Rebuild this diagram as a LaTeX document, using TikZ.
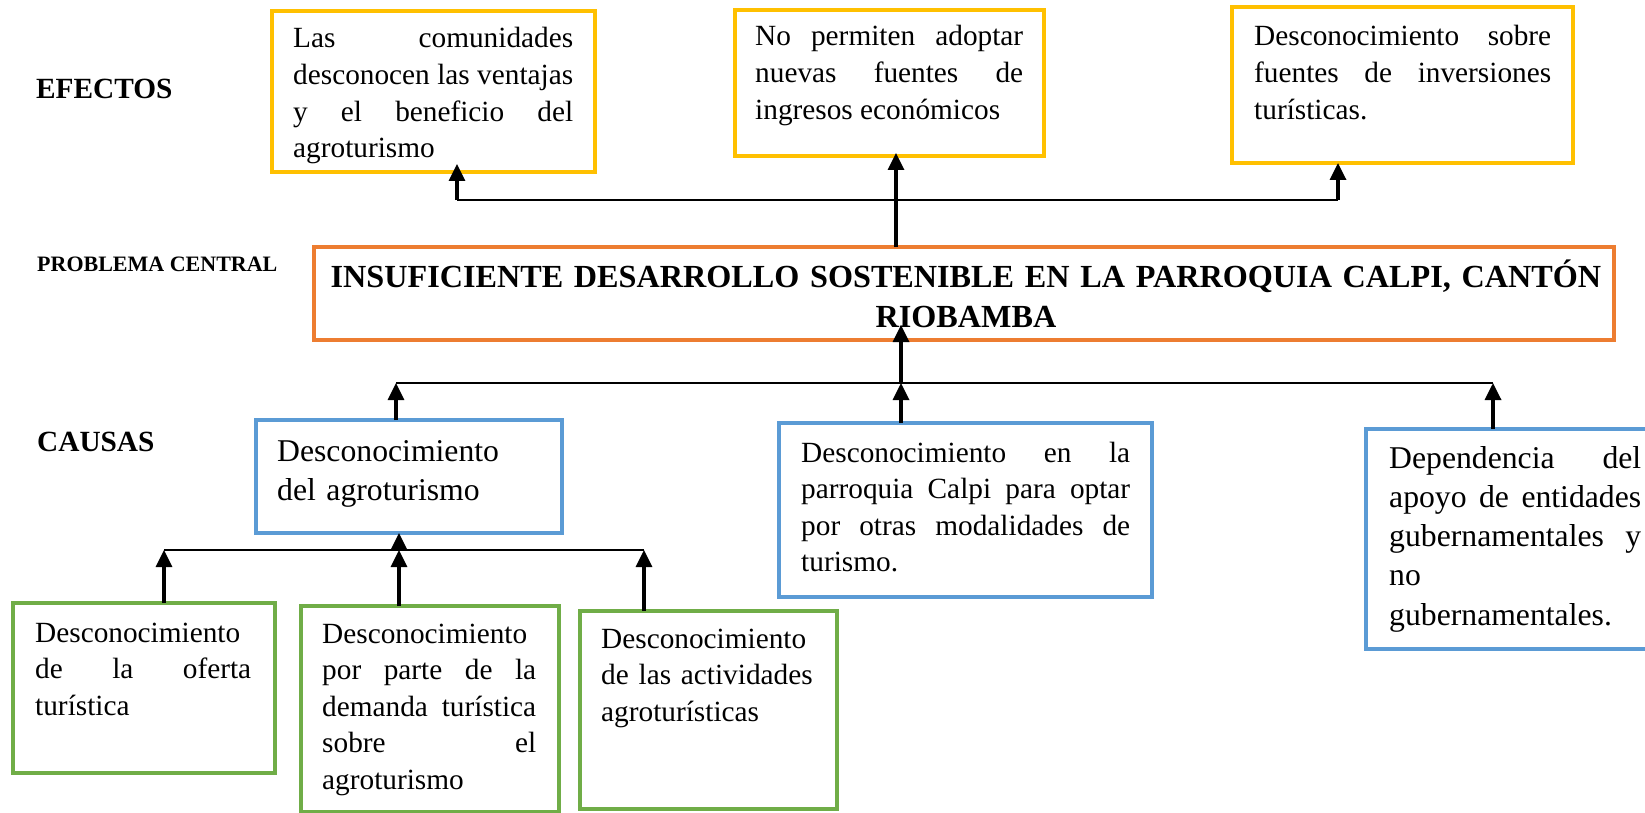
\documentclass[tikz,border=0pt]{standalone}
\usepackage{fontspec}
\setmainfont{Liberation Serif}
\usetikzlibrary{arrows.meta,calc}
\definecolor{cyel}{HTML}{FFC000}
\definecolor{corg}{HTML}{ED7D31}
\definecolor{cblu}{HTML}{5B9BD5}
\definecolor{cgrn}{HTML}{70AD47}
\tolerance=10000 \hyphenpenalty=10000 \exhyphenpenalty=10000
\begin{document}
\begin{tikzpicture}[x=1pt,y=-1pt,
 box/.style={draw=#1, line width=3.5pt, inner sep=0pt, outer sep=0pt, anchor=north west},
 txt/.style={anchor=base west, inner sep=0pt, text width=#1, align=justify},
 fa/.style={font=\fontsize{29.3}{36.6}\selectfont},
 fb/.style={font=\fontsize{31.7}{39.3}\selectfont},
 lab/.style={anchor=base west, inner sep=0pt},
 arr/.style={line width=3.3pt, -{Triangle[width=16pt,length=17pt]}},
 bar/.style={line width=1.5pt}]
\useasboundingbox (0,0) rectangle (1645,813);

% labels
\node[lab, font=\bfseries\fontsize{29.3}{35}\selectfont] (lE) at (36,99) {EFECTOS};
\node[lab, font=\bfseries\fontsize{22}{26}\selectfont] (lP) at (37,271) {PROBLEMA CENTRAL};
\node[lab, font=\bfseries\fontsize{29.3}{35}\selectfont] (lC) at (37,451) {CAUSAS};

% effects
\node[box=cyel, minimum width=323pt, minimum height=161pt] (E1) at (272,11) {};
\node[txt=280pt, fa] (E1t) at (293,48) {Las comunidades\linebreak desconocen las ventajas\linebreak y el beneficio del\linebreak agroturismo};
\node[box=cyel, minimum width=309pt, minimum height=146pt] (E2) at (735,10) {};
\node[txt=268pt, fa] (E2t) at (755,46) {No permiten adoptar\linebreak nuevas fuentes de\linebreak ingresos económicos};
\node[box=cyel, minimum width=341pt, minimum height=156pt] (E3) at (1232,7) {};
\node[txt=297pt, fa] (E3t) at (1254,46) {Desconocimiento sobre\linebreak fuentes de inversiones\linebreak turísticas.};

% central problem
\node[box=corg, minimum width=1300pt, minimum height=93pt] (CP) at (314,247) {};
\node[anchor=base, inner sep=0pt, text width=1290pt, align=center, font=\bfseries\fontsize{32.2}{40}\selectfont] (CPt) at (966,287) {INSUFICIENTE DESARROLLO SOSTENIBLE EN LA PARROQUIA CALPI, CANTÓN\\RIOBAMBA};

% causes
\node[box=cblu, minimum width=306pt, minimum height=113pt] (C1) at (256,420) {};
\node[txt=270pt, fb, align=left] (C1t) at (277,461) {Desconocimiento\\del agroturismo};
\node[box=cblu, minimum width=373pt, minimum height=174pt] (C2) at (779,423) {};
\node[txt=329pt, fa] (C2t) at (801,462) {Desconocimiento en la\linebreak parroquia Calpi para optar\linebreak por otras modalidades de\linebreak turismo.};
\node[box=cblu, minimum width=300pt, minimum height=220pt] (C3) at (1366,429) {};
\node[txt=252pt, fb] (C3t) at (1389,468) {Dependencia del\linebreak apoyo de entidades\linebreak gubernamentales y\linebreak no\hfill\linebreak gubernamentales.};

% sub-causes
\node[box=cgrn, minimum width=262pt, minimum height=170pt] (G1) at (13,603) {};
\node[txt=216pt, fa] (G1t) at (35,642) {Desconocimiento\hfill\linebreak de la oferta\linebreak turística};
\node[box=cgrn, minimum width=258pt, minimum height=206pt] (G2) at (301,606) {};
\node[txt=214pt, fa] (G2t) at (322,643) {Desconocimiento\hfill\linebreak por parte de la\linebreak demanda turística\linebreak sobre el\linebreak agroturismo};
\node[box=cgrn, minimum width=257pt, minimum height=198pt] (G3) at (580,611) {};
\node[txt=215pt, fa, align=left] (G3t) at (601,648) {Desconocimiento\\de las actividades\\agroturísticas};

% upper connectors
\coordinate (uL) at (457,200);
\coordinate (uR) at (1338,200);
\coordinate (uM) at (896,200);
\draw[bar] (uL) -- (uR);
\draw[arr] (uL) -- ($(uL |- E1.south)+(0,-8)$);
\draw[arr] (uR) -- (uR |- E3.south);
\draw[arr] (uM |- CP.north) -- ($(uM |- E2.south)+(0,-3)$);

% lower connectors
\coordinate (lL) at (396,383);
\coordinate (lM) at (901,383);
\coordinate (lR) at (1493,383);
\draw[bar] (lL) -- (lR);
\draw[arr] (lL |- C1.north) -- (lL);
\draw[arr] (lM |- C2.north) -- (lM);
\draw[arr] (lR |- C3.north) -- (lR);
\draw[arr] (lM) -- ($(lM |- CP.south)+(0,-15)$);

% sub-cause connectors
\coordinate (gL) at (164,550);
\coordinate (gM) at (399,550);
\coordinate (gR) at (644,550);
\draw[bar] (gL) -- (gR);
\draw[arr] (gM) -- (gM |- C1.south);
\draw[arr] (gL |- G1.north) -- (gL);
\draw[arr] (gM |- G2.north) -- (gM);
\draw[arr] (gR |- G3.north) -- (gR);
\end{tikzpicture}
\end{document}
